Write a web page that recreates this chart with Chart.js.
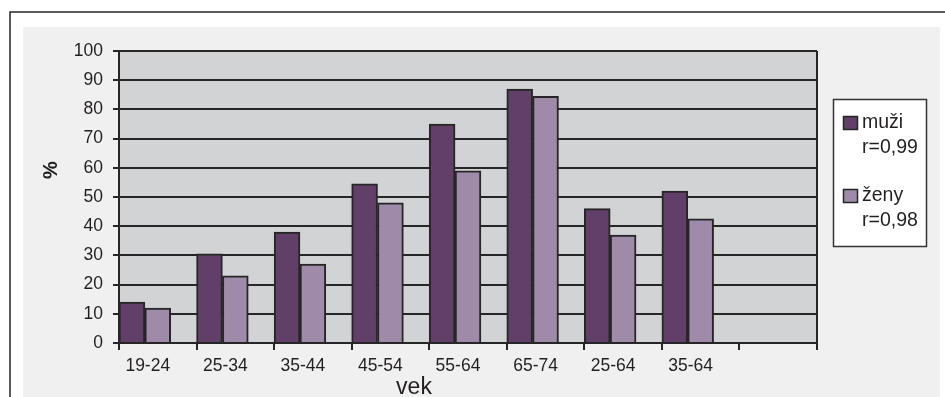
<!DOCTYPE html>
<html lang="sk">
<head>
<meta charset="utf-8">
<title>vek</title>
<script src="https://cdn.jsdelivr.net/npm/chart.js@4"></script>
<style>
  html, body { margin: 0; padding: 0; background: #ffffff; }
  #wrap { width: 945px; height: 397px; position: relative; }
</style>
</head>
<body>
<div id="wrap"><canvas id="c" width="945" height="397"></canvas></div>
<script>
// Age groups (the last slot is left empty on purpose)
const categories = ['19-24', '25-34', '35-44', '45-54', '55-64', '65-74', '25-64', '35-64', ''];
// Share in % per age group
const muzi = [14, 30.5, 38, 54.5, 75, 87, 46, 52, null];
const zeny = [12, 23, 27, 48, 59, 84.5, 37, 42.5, null];
// Legend entries: name and correlation coefficient
const legendNames = ['muži', 'ženy'];
const legendNotes = ['r=0,99', 'r=0,98'];
const yTicks = [0, 10, 20, 30, 40, 50, 60, 70, 80, 90, 100];

const INK = '#231f20';
const LINE = '#262626';
const FONT = '"Liberation Sans", Arial, sans-serif';

// Page frame, panel and plot background
const backdrop = {
  id: 'backdrop',
  beforeDraw(chart) {
    const ctx = chart.ctx;
    const a = chart.chartArea;
    ctx.save();
    ctx.fillStyle = '#ffffff';
    ctx.fillRect(0, 0, chart.width, chart.height);
    ctx.fillStyle = '#f0f0f0';
    ctx.fillRect(23, 27, 917, chart.height - 27);
    ctx.strokeStyle = LINE;
    ctx.lineWidth = 1.5;
    ctx.beginPath();
    ctx.moveTo(10, chart.height);
    ctx.lineTo(10, 12);
    ctx.lineTo(chart.width, 12);
    ctx.stroke();
    ctx.fillStyle = '#d2d3d5';
    ctx.fillRect(a.left, a.top, a.right - a.left, a.bottom - a.top);
    ctx.restore();
  },
  afterDraw(chart) {
    const ctx = chart.ctx;
    const a = chart.chartArea;
    ctx.save();
    // right edge of the plot
    ctx.strokeStyle = LINE;
    ctx.lineWidth = 2;
    ctx.beginPath();
    ctx.moveTo(a.right, a.top);
    ctx.lineTo(a.right, a.bottom + 7);
    ctx.stroke();
    // axis titles
    ctx.fillStyle = INK;
    ctx.textAlign = 'center';
    ctx.textBaseline = 'middle';
    ctx.font = '23px ' + FONT;
    ctx.fillText('vek', 414, 388);
    ctx.translate(51, 170);
    ctx.rotate(-Math.PI / 2);
    ctx.font = 'bold 20px ' + FONT;
    ctx.fillText('%', 0, 0);
    ctx.restore();
  }
};

// Boxed legend with a second line per entry
const boxLegend = {
  id: 'boxLegend',
  afterDraw(chart) {
    const ctx = chart.ctx;
    ctx.save();
    ctx.fillStyle = '#ffffff';
    ctx.fillRect(833.5, 99.5, 93, 147);
    ctx.strokeStyle = '#333333';
    ctx.lineWidth = 1.5;
    ctx.strokeRect(833.5, 99.5, 93, 147);
    ctx.font = '19.5px ' + FONT;
    ctx.textAlign = 'left';
    ctx.textBaseline = 'middle';
    legendNames.forEach((name, i) => {
      const ds = chart.data.datasets[i];
      const y0 = 123 + i * 73;
      ctx.fillStyle = ds.backgroundColor;
      ctx.fillRect(843.5, y0 - 6.5, 14, 13);
      ctx.strokeStyle = LINE;
      ctx.lineWidth = 1.5;
      ctx.strokeRect(843.5, y0 - 6.5, 14, 13);
      ctx.fillStyle = INK;
      ctx.fillText(name, 862, y0);
      ctx.fillText(legendNotes[i], 862, y0 + 25);
    });
    ctx.restore();
  }
};

new Chart(document.getElementById('c'), {
  type: 'bar',
  data: {
    labels: categories,
    datasets: [
      { label: legendNames[0], data: muzi, backgroundColor: '#623f69', borderColor: LINE, borderWidth: 2 },
      { label: legendNames[1], data: zeny, backgroundColor: '#9f8ba9', borderColor: LINE, borderWidth: 2 },
      // empty third slot keeps each pair on the left of its group
      { label: '', data: categories.map(() => null), backgroundColor: 'rgba(0,0,0,0)', borderWidth: 0 }
    ]
  },
  options: {
    responsive: false,
    animation: false,
    devicePixelRatio: 1,
    categoryPercentage: 1,
    barPercentage: 1,
    layout: { padding: { left: 0, top: 51, right: 128, bottom: 0 } },
    plugins: { legend: { display: false }, tooltip: { enabled: false } },
    scales: {
      x: {
        afterFit(scale) { scale.height = 54; },
        grid: { offset: true, drawOnChartArea: false, drawTicks: true, tickLength: 7, color: LINE, lineWidth: 2 },
        border: { color: LINE, width: 2 },
        ticks: { color: INK, font: { family: FONT, size: 17.5 }, labelOffset: -10, padding: 6, maxRotation: 0, autoSkip: false }
      },
      y: {
        min: 0,
        max: 100,
        afterFit(scale) { scale.width = 119; },
        afterBuildTicks(scale) { scale.ticks = yTicks.map(v => ({ value: v })); },
        grid: { color: LINE, lineWidth: 2, tickLength: 6 },
        border: { color: LINE, width: 2 },
        ticks: { color: INK, font: { family: FONT, size: 17.5 }, padding: 10 }
      }
    }
  },
  plugins: [backdrop, boxLegend]
});
</script>
</body>
</html>
